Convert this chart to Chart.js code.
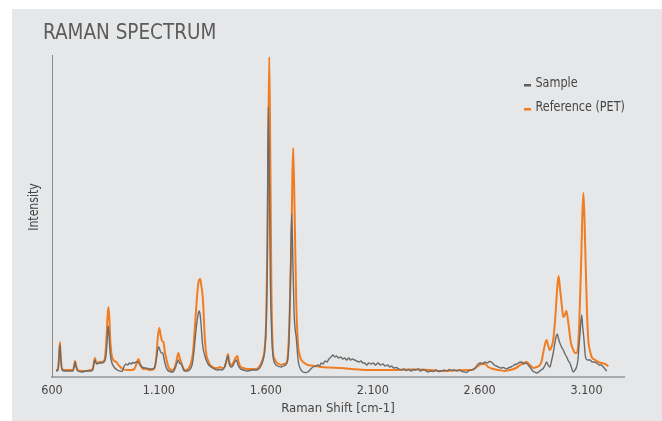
<!DOCTYPE html>
<html lang="en">
<head>
<meta charset="UTF-8">
<title>Raman Spectrum</title>
<script src="https://cdn.jsdelivr.net/npm/chart.js@4"></script>
<style>
  * { box-sizing: border-box; margin: 0; padding: 0; }
  body { background: #fff; width: 662px; height: 421px; overflow: hidden; position: relative; }
  .panel { position: absolute; left: 12px; top: 9px; right: 0; bottom: 0; background: #e6e7e9; }
  .wrap { position: absolute; left: 0; top: 0; width: 662px; height: 421px; }
</style>
</head>
<body>
<div class="panel"></div>
<div class="wrap"><canvas id="chart" width="662" height="421"></canvas></div>
<script>
// ---------- Data ----------

const TICKS = [600, 1100, 1600, 2100, 2600, 3100];

// Reference (PET), orange
const REF_SHIFT = [
  619,628,633,637,641,647,660,680,698,704,708,713,720,740,760,780,790,797,801,806,812,820,830,843,848,855,860,864,868,873,879,884,900,915,931,950,970,985,995,1004,
  1012,1025,1040,1060,1071,1080,1088,1095,1102,1108,1115,1121,1128,1136,1143,1150,1160,1170,1180,1186,1191,1196,1204,1212,1219,1228,1240,1250,1260,1266,1272,1277,1283,1288,1293,1298,
  1306,1311,1316,1322,1329,1340,1352,1365,1376,1385,1395,1402,1410,1417,1423,1428,1437,1444,1450,1458,1466,1473,1482,1495,1510,1525,1540,1555,1565,1579,1587,1594,1602,1607,1612,1616,
  1621,1626,1633,1641,1649,1660,1672,1684,1696,1704,1711,1719,1724,1728,1735,1742,1750,1758,1766,1780,1797,1812,1828,1859,1900,1953,2000,2078,2140,2201,2260,2312,2370,2421,2480,2546,
  2562,2593,2610,2624,2640,2655,2690,2718,2740,2765,2790,2805,2819,2835,2851,2866,2882,2890,2897,2906,2913,2920,2928,2936,2944,2951,2957,2963,2969,2976,2983,2991,2998,3005,3011,3017,
  3027,3038,3046,3053,3060,3066,3074,3080,3085,3090,3096,3102,3108,3116,3124,3140,3155,3170,3186,3202
];
const REF_INT = [
  7,8,22,35,20,8,7,7,7,12,16,11,7,6,6,7,8,16,19,15,14,15,15,16,20,40,62,70,60,35,22,18,15,11,8,7,7,8,13,18,
  13,8,8,7,7.5,9,20,40,49,42,36,35,25,17,11,8,7,8,14,20,24,20,15,10,7,7,9,14,26,44,62,77,92,97,98,92,
  77,55,34,22,17,12,10,9,9,10,9,9,11,17,23,16,12,13,15,19,21,15,10,9,8,8,8,8,9,14,19,27,60,127,240,320,
  220,90,27,18,15,13,12,13,14,25,60,127,200,229,160,77,34,22,17,14,12,11.5,11,10,9.5,9,8,7,7,7,7.5,7.5,7,6,6.5,7,
  7,11,13,13,10,8.5,7,6,7,8.5,12,14,15,12,9,10,12,16,24,33,37,32,27,30,37,52,70,90,101,88,74,60,62,66,60,50,
  34,27,24,24,30,55,110,160,184,160,110,65,37,26,20,17,15,14,13,11
];

// Sample, grey
const SAMPLE_SHIFT = [
  619,628,633,637,641,647,660,680,698,704,708,713,720,740,760,780,790,797,801,806,812,820,830,843,850,856,860,863,867,872,879,890,905,918,928,936,946,955,962,970,
  978,986,993,1000,1004,1012,1025,1040,1055,1071,1080,1088,1094,1100,1106,1112,1118,1124,1132,1140,1152,1162,1170,1178,1184,1191,1196,1204,1212,1219,1230,1242,1255,1262,1268,1275,
  1282,1288,1293,1298,1303,1308,1315,1321,1330,1344,1360,1372,1385,1395,1405,1412,1418,1423,1428,1437,1445,1452,1458,1463,1470,1482,1495,1510,1525,1540,1555,1567,1579,1587,1594,1602,
  1607,1611,1616,1621,1628,1634,1641,1655,1672,1684,1696,1703,1709,1715,1721,1727,1732,1737,1742,1748,1753,1762,1774,1786,1797,1810,1821,1833,1844,1852,1859,1868,1877,1886,1895,1905,
  1914,1922,1930,1940,1950,1960,1969,1978,1988,1997,2006,2015,2025,2035,2045,2054,2062,2072,2082,2092,2102,2112,2125,2136,2147,2158,2170,2180,2187,2198,2210,2222,2234,2245,2256,2268,
  2280,2290,2300,2312,2324,2335,2347,2359,2370,2382,2395,2408,2421,2434,2446,2458,2470,2482,2494,2506,2518,2530,2538,2548,2562,2577,2593,2605,2615,2625,2635,2645,2655,2668,2678,2687,
  2700,2712,2724,2734,2745,2755,2765,2775,2785,2796,2806,2816,2827,2838,2848,2857,2866,2876,2887,2897,2906,2913,2920,2928,2936,2944,2951,2957,2963,2969,2975,2983,2991,2999,3007,3015,
  3022,3030,3038,3046,3053,3060,3064,3070,3077,3082,3088,3092,3096,3105,3116,3127,3137,3147,3158,3168,3178,3186,3194
];
const SAMPLE_INT = [
  6,7,20,32,18,7,6,6,6,11,15,10,6,5,6,6,7,14,17,14,13,14,14,15,18,30,45,51,40,24,15,10,7,6,5.5,10,13,12,14,13,
  14.5,14,15,15,15,12,9.5,9,8,8,10,18,27,30,26,24,24,18,11,7,5.5,5,6,10,14,17,14,13,9,6,6,7,12,22,35,50,
  61,66,62,50,35,27,21,17,13,10,8,7,7.5,7,9,14,19,21,14,10,11,14,16,17,12,8,7,6,6.5,7,7,8,12,17,25,55,
  120,270,210,100,40,20,14,11,10,11,13,18,40,100,163,110,65,48,40,24,14,8,5,4.5,5,8,10,11,12,11,14,13,16,15,18,20,
  22,20,21,19,20,18,19,17,19,17,18,17,16,15,16,14,14,12,14,13,14,12,14,12,13,11,12,10,11,9,9.5,8,7,8,6.5,7.5,
  6,7.5,7,8,6,7.5,6.5,5,6,5.5,7,5.5,6,7,6,7.5,6.5,7,6,7,5.5,5,4.5,6,7,8.5,13,14,13.5,15,14,15.5,15,12,11,10,
  9,9.5,8,9,10,11,12.5,13,14.5,15,13,14,12,9,6,5,4,5,7,8.5,12,15,12,10,16,24,33,40,43,38,34,30,27,23,20,16,
  14,9,5,7,10,18,30,45,62,50,37,26,19,17,17,15,15,14,12,12,10,8,6
];

const TEXT = '#454545';
const FONT = "'DejaVu Sans Condensed', 'Liberation Sans', sans-serif";

function points(xs, ys) { return xs.map((x, i) => ({ x, y: ys[i] })); }

function fmtTick(v) {
  return v >= 1000 ? Math.floor(v / 1000) + '.' + String(v % 1000).padStart(3, '0') : String(v);
}

// draws text squeezed horizontally (the original uses a condensed face)
function squeezed(ctx, text, x, y, sx) {
  ctx.save();
  ctx.translate(x, y);
  ctx.scale(sx, 1);
  ctx.fillText(text, 0, 0);
  ctx.restore();
}

// title, y-axis title and legend drawn straight on the canvas
const decorations = {
  id: 'decorations',
  afterDraw(chart) {
    const ctx = chart.ctx;
    ctx.save();
    ctx.textBaseline = 'alphabetic';
    ctx.fillStyle = '#5c5c5c';
    ctx.font = `22px ${FONT}`;
    squeezed(ctx, 'RAMAN SPECTRUM', 43, 39, 0.93);

    ctx.font = `14.5px ${FONT}`;
    const items = [['Sample', '#5f5f5f', 86.5], ['Reference (PET)', '#f07d22', 110.5]];
    for (const [label, color, base] of items) {
      ctx.fillStyle = color;
      ctx.fillRect(524, base - 2.5, 7, 2.5);
      ctx.fillStyle = TEXT;
      squeezed(ctx, label, 535.5, base, 0.86);
    }

    // y-axis title
    ctx.font = `13.5px ${FONT}`;
    ctx.fillStyle = TEXT;
    ctx.translate(38, 207);
    ctx.rotate(-Math.PI / 2);
    ctx.textAlign = 'center';
    squeezed(ctx, 'Intensity', 0, 0, 0.9);
    ctx.restore();
  },
};

new Chart(document.getElementById('chart'), {
  type: 'line',
  data: {
    datasets: [
      {
        label: 'Sample',
        data: points(SAMPLE_SHIFT, SAMPLE_INT),
        borderColor: '#6b6b6b',
        borderWidth: 1.4,
        pointRadius: 0,
        cubicInterpolationMode: 'monotone',
      },
      {
        label: 'Reference (PET)',
        data: points(REF_SHIFT, REF_INT),
        borderColor: '#f07d22',
        borderWidth: 2,
        pointRadius: 0,
        cubicInterpolationMode: 'monotone',
      },
    ],
  },
  options: {
    responsive: false,
    animation: false,
    layout: { padding: { top: 55, right: 38, bottom: 0, left: 0 } },
    plugins: {
      legend: { display: false },
      title: { display: false },
      tooltip: { enabled: false },
    },
    scales: {
      x: {
        type: 'linear',
        min: 600,
        max: 3275,
        afterFit(scale) { scale.height = 44; },
        afterBuildTicks(scale) { scale.ticks = TICKS.map(v => ({ value: v })); },
        grid: { display: false, drawTicks: false },
        border: { display: true, color: '#a9aaac', width: 2 },
        ticks: { color: TEXT, padding: 6, maxRotation: 0, font: { family: FONT, size: 12.5 }, callback: v => fmtTick(v) },
        title: { display: true, text: 'Raman Shift [cm-1]', color: TEXT, font: { family: FONT, size: 13 }, padding: { top: 0, bottom: 5 } },
      },
      y: {
        min: 0,
        max: 322,
        afterFit(scale) { scale.width = 52; },
        grid: { display: false, drawTicks: false },
        border: { display: true, color: '#8a8a8a', width: 1 },
        ticks: { display: false },
        title: { display: false },
      },
    },
  },
  plugins: [decorations],
});
</script>
</body>
</html>
